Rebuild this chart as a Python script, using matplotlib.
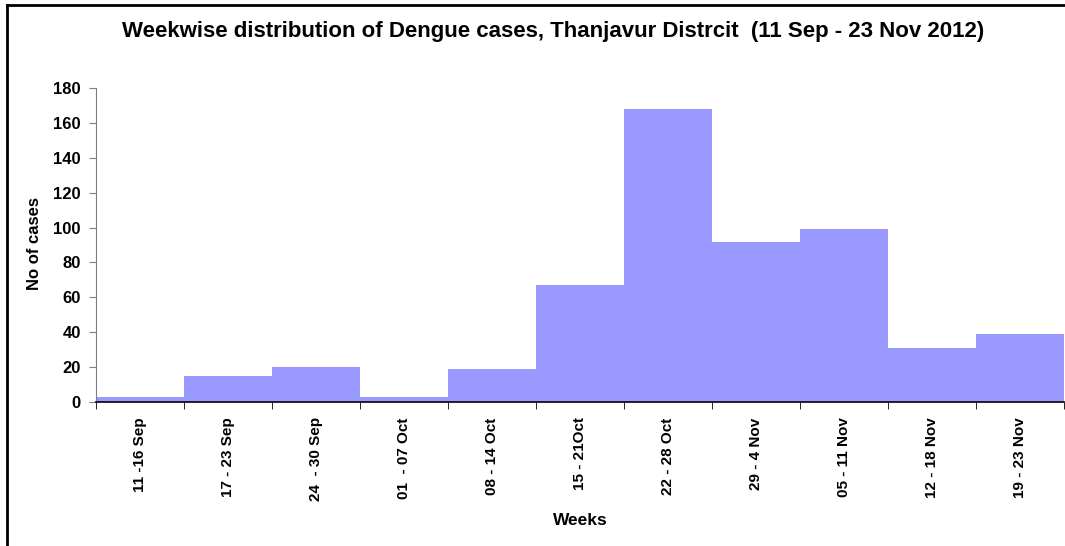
import matplotlib
matplotlib.use('Agg')
import matplotlib.pyplot as plt
from matplotlib.lines import Line2D

plt.rcParams['font.family'] = ['Liberation Sans', 'DejaVu Sans']
plt.rcParams['font.weight'] = 'bold'

# Weekly dengue counts
weeks = ['11 -16 Sep', '17 - 23 Sep', '24  - 30 Sep', '01  - 07 Oct', '08 - 14 Oct',
         '15 - 21Oct', '22 - 28 Oct', '29 - 4 Nov', '05 - 11 Nov', '12 - 18 Nov',
         '19 - 23 Nov']
cases = [3, 15, 20, 3, 19, 67, 168, 92, 99, 31, 39]

fig = plt.figure(figsize=(10.65, 5.46), dpi=100)
ax = fig.add_axes([96 / 1065, 1 - 402 / 546, 968 / 1065, 314 / 546])

x = list(range(len(weeks)))
ax.bar(x, cases, width=1.0, color='#9999FF', edgecolor='none')

ax.set_xlim(-0.5, len(weeks) - 0.5)
ax.set_ylim(0, 180)
ax.set_yticks(range(0, 181, 20))
ax.set_xticks(x)
ax.set_xticklabels(weeks, rotation=90, fontsize=11, fontweight='bold')
ax.set_xticks([i - 0.5 for i in range(len(weeks) + 1)], minor=True)
ax.tick_params(axis='x', which='major', length=0, pad=11)
ax.tick_params(axis='x', which='minor', length=5, direction='out', color='black')
ax.tick_params(axis='y', labelsize=12, length=5, pad=6, direction='out', color='#808080')
for lab in ax.get_yticklabels():
    lab.set_fontweight('bold')

ax.spines['top'].set_visible(False)
ax.spines['right'].set_visible(False)
ax.spines['left'].set_color('#808080')
ax.spines['bottom'].set_color('black')
ax.spines['bottom'].set_linewidth(1.2)

ax.set_ylabel('No of cases', fontsize=12, fontweight='bold')
ax.yaxis.set_label_coords(-0.0558, 0.505)
ax.set_xlabel('Weeks', fontsize=12.5, fontweight='bold')
ax.xaxis.set_label_coords(0.5, -0.354)

fig.text(0.519, 1 - 31 / 546, 'Weekwise distribution of Dengue cases, Thanjavur Distrcit  (11 Sep - 23 Nov 2012)',
         ha='center', va='center', fontsize=16, fontweight='bold')

# chart frame
fig.add_artist(Line2D([7 / 1065, 1], [1 - 5 / 546, 1 - 5 / 546], color='black', lw=2))
fig.add_artist(Line2D([7 / 1065, 7 / 1065], [0, 1 - 5 / 546], color='black', lw=2))

fig.savefig('out.png', dpi=100)
